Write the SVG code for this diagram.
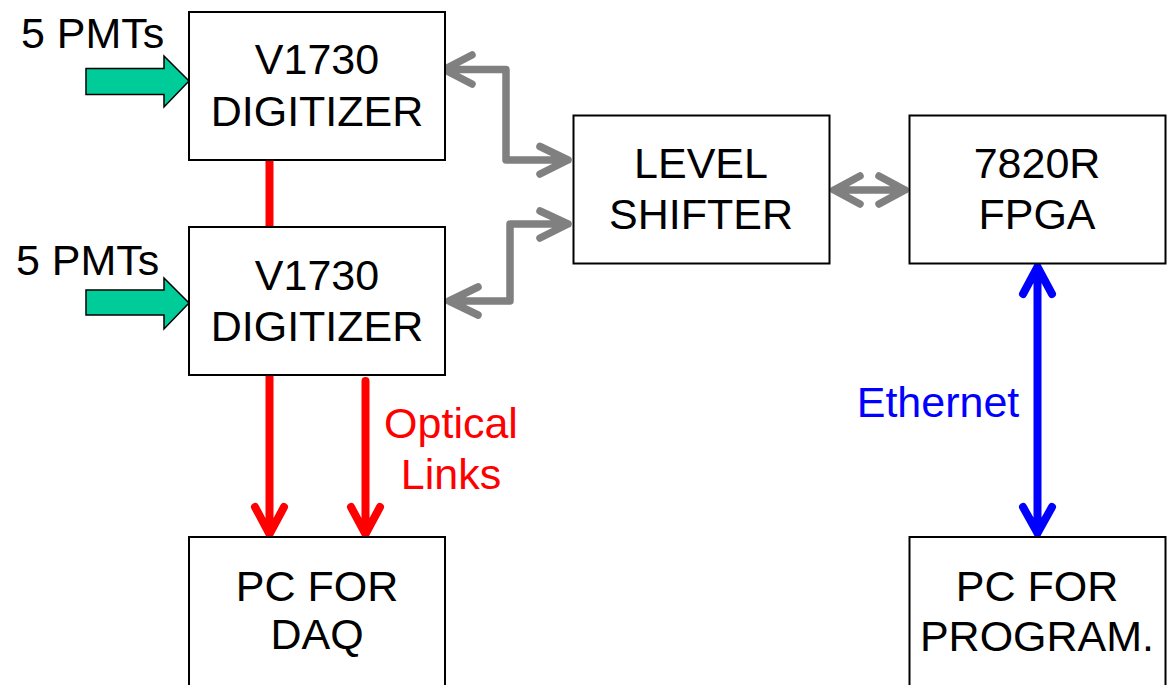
<svg xmlns="http://www.w3.org/2000/svg" width="1172" height="685" viewBox="0 0 1172 685">
<style>
.box{fill:#fff;stroke:#000;stroke-width:2}
.t{font-family:"Liberation Sans",Arial,sans-serif;font-size:43px;fill:#000;text-anchor:middle}
.lbl{font-family:"Liberation Sans",Arial,sans-serif;font-size:43px}
.gray{fill:none;stroke:#808080;stroke-width:7.5;stroke-linecap:round;stroke-linejoin:round}
.red{fill:none;stroke:#ff0000;stroke-width:8;stroke-linecap:round;stroke-linejoin:round}
.redl{fill:none;stroke:#ff0000;stroke-width:8}
.blue{fill:none;stroke:#0000ff;stroke-width:8;stroke-linecap:round;stroke-linejoin:round}
.green{fill:#00cc99;stroke:#000;stroke-width:1.5}
</style>
<rect width="1172" height="685" fill="#fff"/>
<g id="connectors">
<path class="redl" d="M269.5,160 V227"/>
<path class="red" d="M269.5,376 V534 M255,507 L269.5,534 L284,507"/>
<path class="red" d="M365.5,381 V534 M351,507 L365.5,534 L380,507"/>
<path class="gray" d="M444,69.5 H506 V160 H568 M472,55 L444,69.5 L472,84 M540,146.5 L568,160 L540,174"/>
<path class="gray" d="M449,301 H510 V224 H568 M478,287 L449,301 L478,315 M540,211 L568,224 L540,238"/>
<path class="gray" d="M834,190 H905 M860,176 L834,190 L860,204 M879,176 L905,190 L879,204"/>
<path class="blue" d="M1037.5,267 V533 M1023,294 L1037.5,267 L1052,294 M1023,507 L1037.5,533 L1052,507"/>
<text class="lbl" x="451" y="438" fill="#ff0000" text-anchor="middle">Optical</text>
<text class="lbl" x="451" y="489" fill="#ff0000" text-anchor="middle">Links</text>
<text class="lbl" x="938" y="417" fill="#0000ff" text-anchor="middle">Ethernet</text>
</g>
<g id="pmt1">
<text class="lbl" x="21" y="48">5 PMTs</text>
<path class="green" d="M86,68.5 H164 V56 L189,81 L164,107 V94.5 H86 Z"/>
</g>
<g id="pmt2">
<text class="lbl" x="16" y="275">5 PMTs</text>
<path class="green" d="M86,290 H164 V278 L189,303 L164,329 V315 H86 Z"/>
</g>
<g id="digitizer1">
<rect class="box" x="189" y="12" width="256" height="148"/>
<text class="t" x="317" y="74">V1730</text>
<text class="t" x="317" y="126">DIGITIZER</text>
</g>
<g id="digitizer2">
<rect class="box" x="189" y="227" width="256" height="148"/>
<text class="t" x="317" y="290">V1730</text>
<text class="t" x="317" y="341">DIGITIZER</text>
</g>
<g id="levelshifter">
<rect class="box" x="573.5" y="115.5" width="256" height="148"/>
<text class="t" x="701" y="178">LEVEL</text>
<text class="t" x="701" y="229">SHIFTER</text>
</g>
<g id="fpga">
<rect class="box" x="909.5" y="115.5" width="256" height="148"/>
<text class="t" x="1037" y="178">7820R</text>
<text class="t" x="1037" y="229">FPGA</text>
</g>
<g id="pcdaq">
<rect class="box" x="189" y="537" width="256" height="160"/>
<text class="t" x="317" y="601">PC FOR</text>
<text class="t" x="317" y="649">DAQ</text>
</g>
<g id="pcprog">
<rect class="box" x="909.5" y="537" width="256" height="160"/>
<text class="t" x="1037" y="601">PC FOR</text>
<text class="t" x="1037" y="651">PROGRAM.</text>
</g>
</svg>
